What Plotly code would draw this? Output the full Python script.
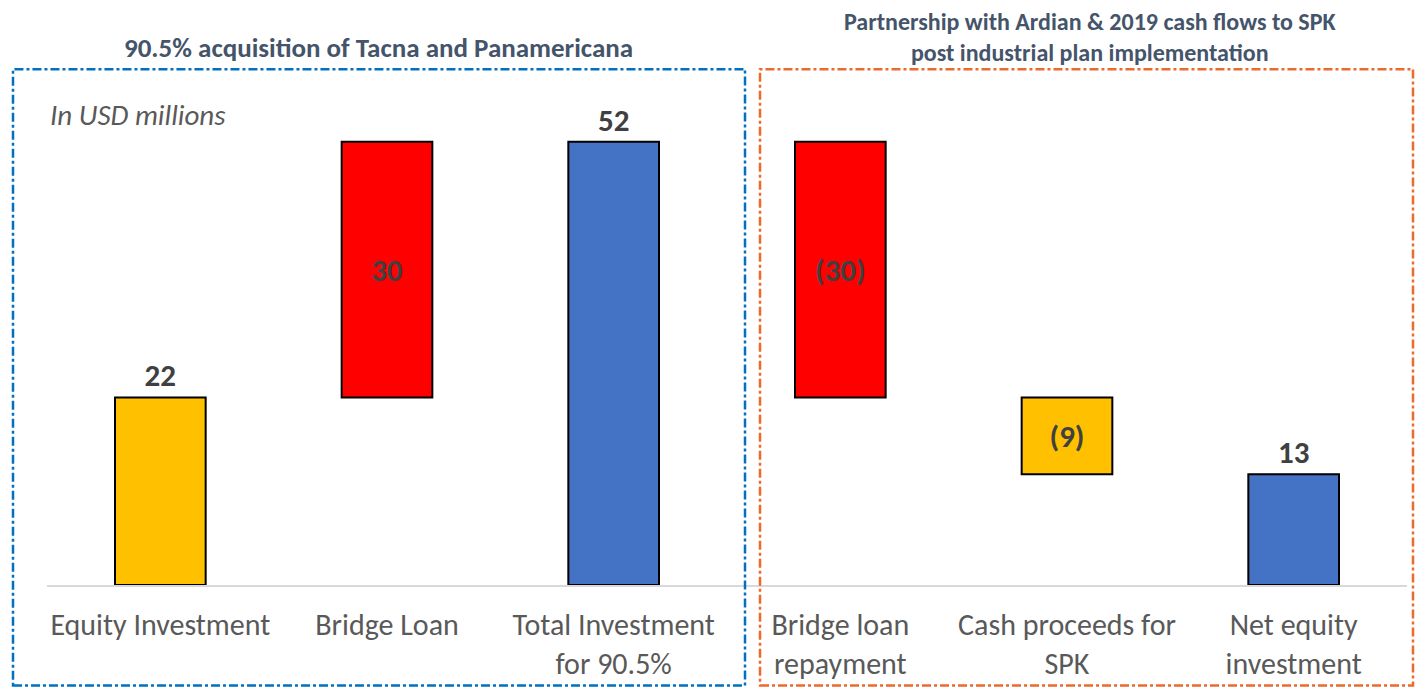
import plotly.graph_objects as go

# ---- data ----
categories = ["Equity Investment", "Bridge Loan", "Total Investment<br>for 90.5%",
              "Bridge loan<br>repayment", "Cash proceeds for<br>SPK", "Net equity<br>investment"]
values = [22, 30, 52, -30, -9, 13]
measures = ["relative", "relative", "total", "relative", "relative", "total"]
left_title = "90.5% acquisition of Tacna and Panamericana"
right_title = "Partnership with Ardian & 2019 cash flows to SPK<br>post industrial plan implementation"
unit_note = "In USD millions"

# ---- styles ----
bar_colors = ["#FFC000", "#FF0000", "#4472C4", "#FF0000", "#FFC000", "#4472C4"]
text_positions = ["outside", "inside", "outside", "inside", "inside", "outside"]
FONT = "Carlito, Lato, 'Open Sans', sans-serif"
OFF = 8  # body margin of the page
W, H = 1423 - 2 * OFF, 698 - 2 * OFF
# plot area in page pixels: x 47..1407, y 100..587
ML = 47 - OFF
MR = W - (1407 - OFF)
MT = 100 - OFF
MB = H - (587 - OFF)

# waterfall bases/heights derived from the data
bases, heights = [], []
running = 0
for v, m in zip(values, measures):
    if m == "total":
        bases.append(0)
        heights.append(v)
        running = v
    else:
        if v >= 0:
            bases.append(running)
            heights.append(v)
        else:
            bases.append(running + v)
            heights.append(-v)
        running += v

labels = [f"({abs(v)})" if v < 0 else f"{v}" for v in values]

fig = go.Figure(go.Bar(
    x=categories, y=heights, base=bases,
    marker=dict(color=bar_colors, line=dict(color="#000000", width=2)),
    width=0.40,
    text=labels, textposition=text_positions,
    insidetextanchor="middle",
    textfont=dict(family=FONT, size=31, color="#404040", weight="bold"),
    cliponaxis=False, hoverinfo="skip",
))

pw = W - ML - MR
ph = H - MT - MB


def px_x(x):  # page pixel -> paper
    return (x - OFF - ML) / pw


def px_y(y):
    return (H - MB - (y - OFF)) / ph


shapes = [
    dict(type="rect", xref="paper", yref="paper",
         x0=px_x(13), x1=px_x(745), y0=px_y(688), y1=px_y(69),
         line=dict(color="#0070C0", width=2.5, dash="dashdot")),
    dict(type="rect", xref="paper", yref="paper",
         x0=px_x(760), x1=px_x(1413), y0=px_y(688), y1=px_y(69),
         line=dict(color="#ED6A2B", width=2.5, dash="dashdot")),
]

annotations = [
    dict(text=f"<b>{left_title}</b>", xref="paper", yref="paper",
         x=px_x(378), y=px_y(47), showarrow=False, xanchor="center", yanchor="middle",
         font=dict(family=FONT, size=27, color="#44546A")),
    dict(text=f"<b>{right_title.replace('<br>', '</b><br><b>')}</b>", xref="paper", yref="paper",
         x=px_x(1090), y=px_y(37), showarrow=False, xanchor="center", yanchor="middle",
         font=dict(family=FONT, size=24, color="#44546A")),
    dict(text=f"<i>{unit_note}</i>", xref="paper", yref="paper",
         x=px_x(48), y=px_y(115), showarrow=False, xanchor="left", yanchor="middle",
         font=dict(family=FONT, size=29, color="#595959")),
]

fig.update_layout(
    width=W, height=H,
    margin=dict(l=ML, r=MR, t=MT, b=MB),
    paper_bgcolor="white", plot_bgcolor="white",
    showlegend=False,
    shapes=shapes, annotations=annotations,
    font=dict(family=FONT),
    xaxis=dict(showline=True, linecolor="#D9D9D9", linewidth=2,
               ticks="outside", ticklen=12, tickcolor="rgba(0,0,0,0)",
               tickfont=dict(family=FONT, size=30, color="#595959"),
               showgrid=False, fixedrange=True),
    yaxis=dict(range=[0, (H - MB - MT) / 8.56], visible=False, showgrid=False,
               zeroline=False, fixedrange=True),
)

fig.write_html("out.html", config={"displayModeBar": False})
